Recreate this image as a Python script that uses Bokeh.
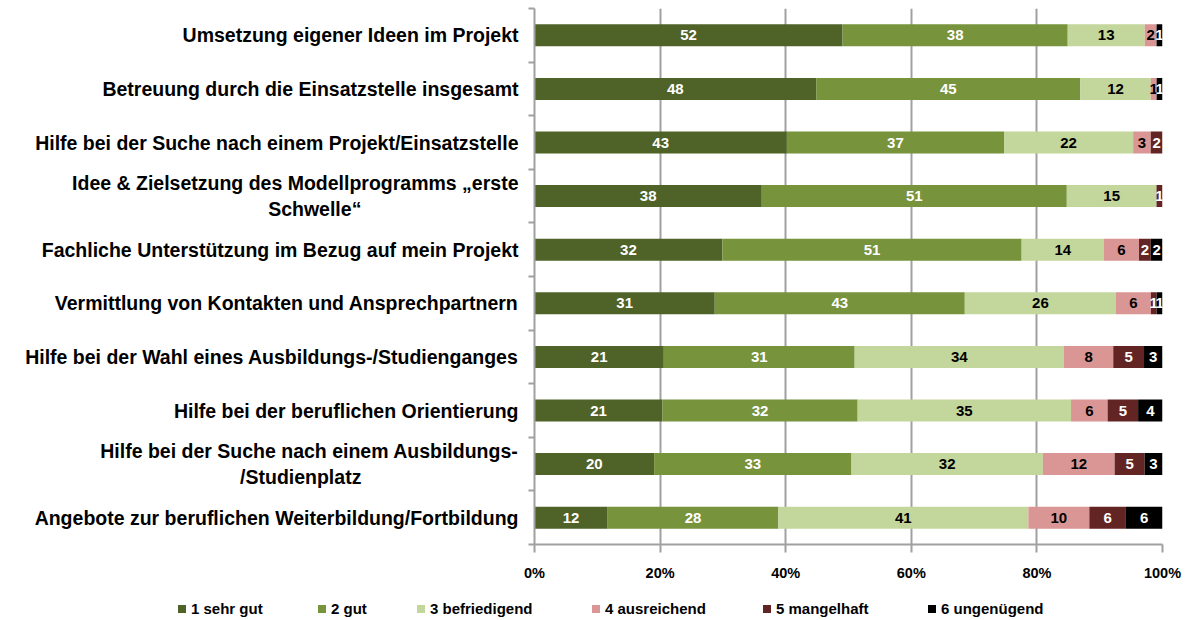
import numpy as np
from bokeh.plotting import figure
from bokeh.layouts import column
from bokeh.models import (Range1d, FixedTicker, NumeralTickFormatter, ColumnDataSource, Div)
from bokeh.core.properties import value
from bokeh.embed import file_html
from bokeh.resources import INLINE

NB = "\u00a0"
categories = [
    "Umsetzung eigener Ideen im Projekt",
    "Betreuung durch die Einsatzstelle insgesamt",
    "Hilfe bei der Suche nach einem Projekt/Einsatzstelle",
    "Idee & Zielsetzung des Modellprogramms „erste\nSchwelle“",
    "Fachliche Unterstützung im Bezug auf mein Projekt",
    "Vermittlung von Kontakten und Ansprechpartnern",
    "Hilfe bei der Wahl eines Ausbildungs-/Studienganges",
    "Hilfe bei der beruflichen Orientierung",
    "Hilfe bei der Suche nach einem Ausbildungs-\n/Studienplatz",
    "Angebote zur beruflichen Weiterbildung/Fortbildung",
]
series_names = ["1 sehr gut", "2 gut", "3 befriedigend", "4 ausreichend", "5 mangelhaft", "6 ungenügend"]
sehr_gut = [52, 48, 43, 38, 32, 31, 21, 21, 20, 12]
gut = [38, 45, 37, 51, 51, 43, 31, 32, 33, 28]
befriedigend = [13, 12, 22, 15, 14, 26, 34, 35, 32, 41]
ausreichend = [2, 1, 3, 0, 6, 6, 8, 6, 12, 10]
mangelhaft = [0, 0, 2, 1, 2, 1, 5, 5, 5, 6]
ungenuegend = [1, 1, 0, 0, 2, 1, 3, 4, 3, 6]
x_ticks = [0, 0.2, 0.4, 0.6, 0.8, 1.0]

colors = ["#4F6228", "#77933C", "#C3D69B", "#D99694", "#632523", "#000000"]
label_colors = ["white", "white", "black", "black", "white", "white"]
FONT = "Liberation Sans"

data = np.array([sehr_gut, gut, befriedigend, ausreichend, mangelhaft, ungenuegend], dtype=float)
totals = data.sum(axis=0)
norm = data / totals
rights = np.cumsum(norm, axis=0)
lefts = rights - norm

n = len(categories)
ypos = [n - 0.5 - i for i in range(n)]


def tick_text(c):
    # centre the wrapped second line under the first (Excel-style wrapping)
    if "\n" in c:
        a, b = c.split("\n")
        return a + "\n" + b + NB * 29
    return c


FRAME_LEFT = 534
p = figure(width=1186, height=590, output_backend="svg", toolbar_location=None,
           x_range=Range1d(0, 1), y_range=Range1d(0, n),
           min_border_left=FRAME_LEFT, min_border_right=24, min_border_top=8, min_border_bottom=46)
p.outline_line_color = None
p.background_fill_color = "white"

for k in range(6):
    src = ColumnDataSource(dict(y=ypos, left=lefts[k], right=rights[k],
                                mid=(lefts[k] + rights[k]) / 2,
                                lab=[str(int(v)) if v > 0 else "" for v in data[k]]))
    p.hbar(y="y", left="left", right="right", height=0.41, source=src,
           fill_color=colors[k], line_color=None)
    p.text(x="mid", y="y", text="lab", source=src, text_align="center", text_baseline="middle",
           text_font=value(FONT), text_font_style="bold", text_font_size="15px",
           text_color=label_colors[k])

# grid
p.xgrid.ticker = FixedTicker(ticks=x_ticks)
p.xgrid.grid_line_color = "#A0A0A0"
p.xgrid.grid_line_width = 2
p.ygrid.grid_line_color = None

# x axis
xa = p.xaxis[0]
xa.ticker = FixedTicker(ticks=x_ticks)
xa.formatter = NumeralTickFormatter(format="0%")
xa.axis_line_color = "#A0A0A0"
xa.axis_line_width = 2
xa.major_tick_line_color = "#A0A0A0"
xa.major_tick_line_width = 2
xa.major_tick_out = 8
xa.major_tick_in = 0
xa.minor_tick_line_color = None
xa.major_label_text_font = FONT
xa.major_label_text_font_style = "bold"
xa.major_label_text_font_size = "14.5px"
xa.major_label_text_color = "black"
xa.major_label_standoff = 12

# y axis
ya = p.yaxis[0]
ya.ticker = FixedTicker(ticks=ypos, minor_ticks=list(range(n + 1)))
ya.major_label_overrides = {y: tick_text(c) for y, c in zip(ypos, categories)}
ya.axis_line_color = "#A0A0A0"
ya.axis_line_width = 2
ya.major_tick_line_color = None
ya.major_tick_out = 0
ya.major_tick_in = 0
ya.minor_tick_line_color = "#A0A0A0"
ya.minor_tick_line_width = 2
ya.minor_tick_out = 6
ya.minor_tick_in = 0
ya.major_label_text_font = FONT
ya.major_label_text_font_style = "bold"
ya.major_label_text_font_size = "19.5px"
ya.major_label_text_color = "black"
ya.major_label_standoff = 10

# legend strip below the chart (HTML, spaced like the original)
swatch_x = [173, 313, 412, 587, 758, 923]
parts = []
for name, col, sx in zip(series_names, colors, swatch_x):
    parts.append(f'<span style="position:absolute;left:{sx}px;top:10px;width:8px;height:8px;'
                 f'background:{col};"></span>')
    parts.append(f'<span style="position:absolute;left:{sx + 13}px;top:5px;line-height:17px;'
                 f'white-space:nowrap;">{name}</span>')
legend_html = ('<div style="position:relative;width:1186px;height:30px;'
               f"font-family:'{FONT}';font-weight:bold;font-size:15px;color:#000;\">"
               + "".join(parts) + "</div>")
legend_div = Div(text=legend_html, width=1186, height=30)

layout = column(p, legend_div, spacing=0)
open("out.html", "w").write(file_html(layout, INLINE))
